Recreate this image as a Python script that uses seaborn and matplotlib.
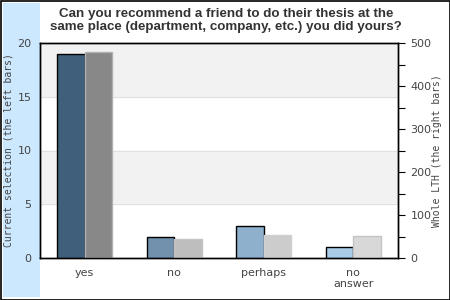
import matplotlib
matplotlib.use("Agg")
import matplotlib.pyplot as plt
import seaborn as sns
import pandas as pd
from matplotlib.patches import Rectangle

categories = ["yes", "no", "perhaps", "no answer"]
tick_labels = ["yes", "no", "perhaps", "no\nanswer"]
current_selection = [19, 2, 3, 1]
whole_lth = [478, 44, 54, 51]
left_colors = ["#3f5f7a", "#7191ad", "#8fb0cc", "#a9cde9"]
right_colors = ["#888888", "#bebebe", "#cccccc", "#d8d8d8"]
right_edges = ["#b0b0b0", "#c4c4c4", "#d0d0d0", "#c4c4c4"]

sns.set_theme(style="white")
plt.rcParams["font.family"] = ["DejaVu Sans"]

fig = plt.figure(figsize=(4.5, 3), dpi=100)
fig.patch.set_facecolor("white")

# left blue strip and outer border
fig.add_artist(Rectangle((3/450, 3/300), 37/450, 294/300, transform=fig.transFigure,
                         facecolor="#cce8ff", edgecolor="none", zorder=0))
fig.add_artist(Rectangle((0.5/450, 0.5/300), 449/450, 299/300, transform=fig.transFigure,
                         facecolor="none", edgecolor="black", linewidth=1.2, zorder=10))

ax = fig.add_axes([40/450, 42/300, 358/450, 215/300])
ax.set_facecolor("none")
ax2 = ax.twinx()

df_l = pd.DataFrame({"cat": categories, "val": current_selection, "s": "L"})
df_r = pd.DataFrame({"cat": categories, "val": whole_lth, "s": "R"})

sns.barplot(data=df_l, x="cat", y="val", hue="s", hue_order=["L", "R"], order=categories,
            dodge=True, width=0.61, ax=ax, legend=False, errorbar=None)
sns.barplot(data=df_r, x="cat", y="val", hue="s", hue_order=["L", "R"], order=categories,
            dodge=True, width=0.61, ax=ax2, legend=False, errorbar=None)

for p, c in zip(ax.patches, left_colors):
    p.set_facecolor(c)
    p.set_edgecolor("black")
    p.set_linewidth(1.0)
    p.set_zorder(3)
for p, c, e in zip(ax2.patches, right_colors, right_edges):
    p.set_facecolor(c)
    p.set_edgecolor(e)
    p.set_linewidth(1.0)

ax.set_ylim(0, 20)
ax2.set_ylim(0, 500)
ax.set_xlim(-0.5, 3.5)

# background bands and grid
ax.axhspan(15, 20, color="#f2f2f2", zorder=0)
ax.axhspan(5, 10, color="#f2f2f2", zorder=0)
for yv in [5, 10, 15]:
    ax.axhline(yv, color="#e0e0e0", linewidth=0.8, zorder=0.5)
ax2.patch.set_visible(False)

ax.set_yticks([0, 5, 10, 15, 20])
ax.tick_params(axis="y", length=0, pad=6, labelsize=8, labelcolor="#444444")
ax.set_xticks(range(4))
ax.set_xticklabels(tick_labels, linespacing=1.1)
ax.tick_params(axis="x", length=0, pad=7, labelsize=8, labelcolor="#444444")
ax.set_xlabel("")
ax.set_ylabel("Current selection (the left bars)", family="DejaVu Sans Mono",
              fontsize=7, color="#444444")
ax.yaxis.set_label_coords(-0.074, 0.5)

ax2.set_yticks(range(0, 501, 50))
ax2.set_yticklabels([str(v) if v % 100 == 0 else "" for v in range(0, 501, 50)])
ax2.tick_params(axis="y", length=5, width=0.8, color="black", pad=4, labelsize=8,
                labelcolor="#444444", right=True)
ax2.set_ylabel("Whole LTH (the right bars)", family="DejaVu Sans Mono",
               fontsize=7, color="#444444")
ax2.yaxis.set_label_coords(1.094, 0.5)

for a in (ax, ax2):
    for s in a.spines.values():
        s.set_color("black")
        s.set_linewidth(1.0)
        s.set_visible(True)

fig.text(0.502, 0.932, "Can you recommend a friend to do their thesis at the\n"
         "same place (department, company, etc.) you did yours?",
         ha="center", va="center", fontsize=9.6, fontweight="bold", color="#333333",
         family="Liberation Sans", linespacing=1.05)

fig.savefig("out.png", dpi=100)
